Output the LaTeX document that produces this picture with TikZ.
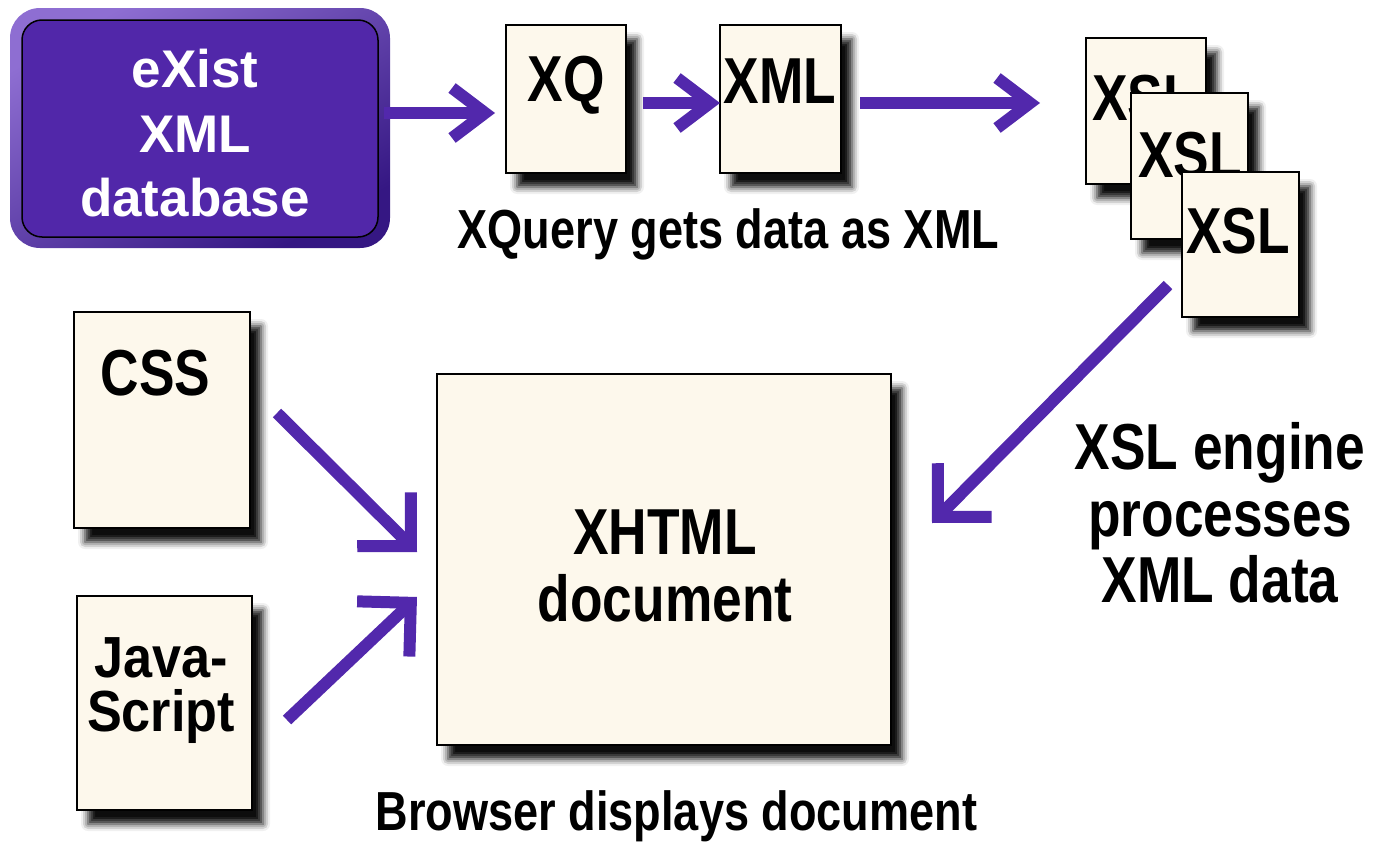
\documentclass[tikz,border=0pt]{standalone}
\usepackage{fontspec}
\setmainfont{Liberation Sans}
\newfontfamily\fN[FakeStretch=0.82]{Liberation Sans}
\newfontfamily\fJ[FakeStretch=0.9]{Liberation Sans}
\usetikzlibrary{arrows.meta,shadows.blur,calc}
\definecolor{cream}{HTML}{FDF8EC}
\definecolor{arrowpurple}{HTML}{5228AC}
\definecolor{dbfill}{HTML}{5127A9}
\definecolor{dblight}{HTML}{8E6ED2}
\definecolor{dbdark}{HTML}{351783}
\tikzset{
  docbox/.style={draw=black, line width=1pt, fill=cream, inner sep=0pt, outer sep=0pt,
    blur shadow={shadow xshift=5.5pt, shadow yshift=-7pt, shadow blur radius=3.5pt, shadow opacity=95}},
  boxtext/.style={inner sep=0pt, outer sep=0pt, align=center,
    font=\fN\bfseries\fontsize{32.5}{33.5}\selectfont},
  jstext/.style={inner sep=0pt, outer sep=0pt, align=center,
    font=\fJ\bfseries\fontsize{29}{27}\selectfont},
  dbtext/.style={inner sep=0pt, outer sep=0pt, align=center, text=white,
    font=\bfseries\fontsize{26.5}{32.25}\selectfont},
  caption/.style={inner sep=0pt, outer sep=0pt, font=\fN\bfseries\fontsize{27.5}{30}\selectfont},
  bigcaption/.style={inner sep=0pt, outer sep=0pt, align=center,
    font=\fN\bfseries\fontsize{32.5}{33.25}\selectfont},
  flowh/.style={draw=arrowpurple, line width=6pt,
    -{Straight Barb[length=16.5pt, width=25pt, sharp]}},
  flowd/.style={draw=arrowpurple, line width=6pt,
    -{Straight Barb[length=19pt, width=38pt, sharp]}},
}
\begin{document}
\begin{tikzpicture}[x=0.5pt, y=-0.5pt]
\useasboundingbox (0,0) rectangle (1373,846);

% database
\node[rounded corners=15pt, top color=dblight, bottom color=dbdark, shading angle=30,
      minimum width=190pt, minimum height=120pt, inner sep=0pt, outer sep=0pt] (existouter) at (200,128) {};
\node[draw=black, line width=0.75pt, fill=dbfill, rounded corners=10pt,
      minimum width=178pt, minimum height=108.5pt, inner sep=0pt, outer sep=0pt] (exist) at (200,128.5) {};
\node[dbtext] (existtext) at (195,133.5) {eXist\\XML\\database};

% top documents
\node[docbox, minimum width=60pt, minimum height=74pt] (xq) at (566,99) {};
\node[boxtext, anchor=base] (xqtext) at (566,101) {XQ};
\node[docbox, minimum width=60.5pt, minimum height=74pt] (xml) at (780.5,99) {};
\node[boxtext, anchor=base] (xmltext) at (780,103) {XML};

% XSL stack
\node[docbox, minimum width=60pt, minimum height=73pt] (xsl1) at (1146,111) {};
\node[boxtext, anchor=base] (xsl1text) at (1144,120) {XSL};
\node[docbox, minimum width=58.5pt, minimum height=73pt] (xsl2) at (1189.5,166) {};
\node[boxtext, anchor=base] (xsl2text) at (1190,177) {XSL};
\node[docbox, minimum width=58.5pt, minimum height=72.5pt] (xsl3) at (1240.5,244.5) {};
\node[boxtext, anchor=base] (xsl3text) at (1238,253) {XSL};

% left documents
\node[docbox, minimum width=88pt, minimum height=108pt] (css) at (162,420) {};
\node[boxtext, anchor=base] (csstext) at (155.5,395) {CSS};
\node[docbox, minimum width=87.5pt, minimum height=107pt] (js) at (164.5,703) {};
\node[jstext] (jstext) at (161,691) {Java-\\Script};

% XHTML document
\node[docbox, minimum width=227pt, minimum height=185.5pt] (xhtml) at (664,559.5) {};
\node[boxtext] (xhtmltext) at (665,566) {XHTML\\document};

% captions
\node[caption, anchor=base] (lab1) at (728.5,248) {XQuery gets data as XML};
\node[bigcaption] (lab2) at (1220,513) {XSL engine\\processes\\XML data};
\node[caption, anchor=base] (lab3) at (676.5,830) {Browser displays document};

% connectors
\draw[flowh, shorten >=5.5pt] ([xshift=3pt, yshift=7.75pt]exist.east) -- ([yshift=-7pt]xq.west);
\draw[flowh, shorten <=8.5pt] ([yshift=-2pt]xq.east) -- ([yshift=-2pt]xml.west);
\draw[flowh, shorten <=9.5pt, shorten >=23pt] ([yshift=-2pt]xml.east) -- ([yshift=4pt]xsl1.west);
\draw[flowd] ([xshift=-7pt, yshift=-20.25pt]xsl3.west) -- ([xshift=20.5pt, yshift=18.25pt]xhtml.east);
\draw[flowd] ([xshift=13.5pt, yshift=3.5pt]css.east) -- ([xshift=-10pt, yshift=3.75pt]xhtml.west);
\draw[flowd] ([xshift=17.5pt, yshift=-8.5pt]js.east) -- ([xshift=-10pt, yshift=-18.75pt]xhtml.west);
\end{tikzpicture}
\end{document}
